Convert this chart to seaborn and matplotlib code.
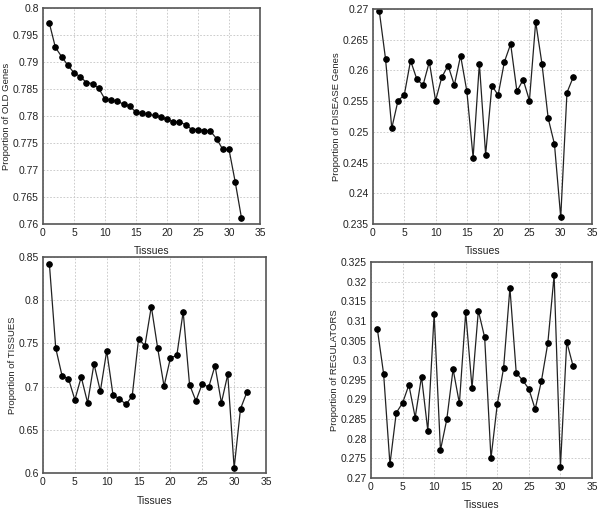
import matplotlib
matplotlib.use('Agg')
import matplotlib.pyplot as plt
import seaborn as sns
import pandas as pd

tissues = list(range(1, 33))

old_genes = [0.7973, 0.7927, 0.7910, 0.7894, 0.7880, 0.7873, 0.7862, 0.7860,
             0.7851, 0.7831, 0.7830, 0.7827, 0.7822, 0.7818, 0.7807, 0.7805,
             0.7803, 0.7801, 0.7798, 0.7794, 0.7789, 0.7789, 0.7784, 0.7775,
             0.7775, 0.7773, 0.7772, 0.7758, 0.7738, 0.7738, 0.7678, 0.7612]

disease_genes = [0.2697, 0.2619, 0.2506, 0.2551, 0.2560, 0.2616, 0.2586, 0.2576,
                 0.2614, 0.2551, 0.2589, 0.2608, 0.2576, 0.2624, 0.2566, 0.2458,
                 0.2611, 0.2463, 0.2575, 0.2560, 0.2614, 0.2643, 0.2566, 0.2585,
                 0.2551, 0.2679, 0.2611, 0.2522, 0.2480, 0.2361, 0.2564, 0.2589]

tissue_prop = [0.8421, 0.7444, 0.7123, 0.7092, 0.6847, 0.7111, 0.6812, 0.7264,
               0.6946, 0.7414, 0.6897, 0.6862, 0.6793, 0.6889, 0.7552, 0.7475,
               0.7927, 0.7444, 0.7004, 0.7333, 0.7360, 0.7866, 0.7023, 0.6835,
               0.7034, 0.6992, 0.7241, 0.6812, 0.7142, 0.6057, 0.6743, 0.6935]

regulators = [0.3080, 0.2965, 0.2735, 0.2866, 0.2891, 0.2937, 0.2854, 0.2958,
              0.2820, 0.3117, 0.2771, 0.2849, 0.2977, 0.2890, 0.3122, 0.2929,
              0.3126, 0.3058, 0.2750, 0.2888, 0.2980, 0.3184, 0.2968, 0.2949,
              0.2927, 0.2875, 0.2948, 0.3043, 0.3216, 0.2728, 0.3047, 0.2985]

sns.set_style('white')
plt.rcParams['font.family'] = ['Liberation Sans', 'DejaVu Sans']

fig = plt.figure(figsize=(6, 5.16), dpi=100)

panels = [
    (old_genes, 'Proportion of OLD Genes', (0.76, 0.8), 0.005,
     [43/600, 1-224/516, 217/600, 216/516]),
    (disease_genes, 'Proportion of DISEASE Genes', (0.235, 0.27), 0.005,
     [373/600, 1-224/516, 219/600, 215/516]),
    (tissue_prop, 'Proportion of TISSUES', (0.6, 0.85), 0.05,
     [43/600, 1-473/516, 223/600, 216/516]),
    (regulators, 'Proportion of REGULATORS', (0.27, 0.325), 0.005,
     [371/600, 1-478/516, 221/600, 216/516]),
]

for values, ylabel, ylim, step, pos in panels:
    ax = fig.add_axes(pos)
    df = pd.DataFrame({'Tissues': tissues, 'value': values})
    sns.lineplot(data=df, x='Tissues', y='value', ax=ax, color='#222222',
                 linewidth=0.9, marker='o', markersize=4,
                 markerfacecolor='black', markeredgecolor='black')
    ax.set_xlim(0, 35)
    ax.set_ylim(*ylim)
    ax.set_xticks(range(0, 36, 5))
    n = int(round((ylim[1] - ylim[0]) / step))
    yt = [round(ylim[0] + i * step, 4) for i in range(n + 1)]
    ax.set_yticks(yt)
    ax.set_yticklabels([f'{v:g}' for v in yt])
    ax.grid(True, linestyle=(0, (2, 2)), color='#c4c4c4', linewidth=0.6)
    ax.tick_params(length=0, labelsize=7.5, pad=3, colors='#222222')
    ax.set_xlabel('Tissues', fontsize=7.5, color='#222222', labelpad=6)
    ax.set_ylabel(ylabel, fontsize=6.8, color='#222222', labelpad=1)
    for s in ax.spines.values():
        s.set_color('#555555')
        s.set_linewidth(1.2)

fig.savefig('out.png', dpi=100, facecolor='white')
